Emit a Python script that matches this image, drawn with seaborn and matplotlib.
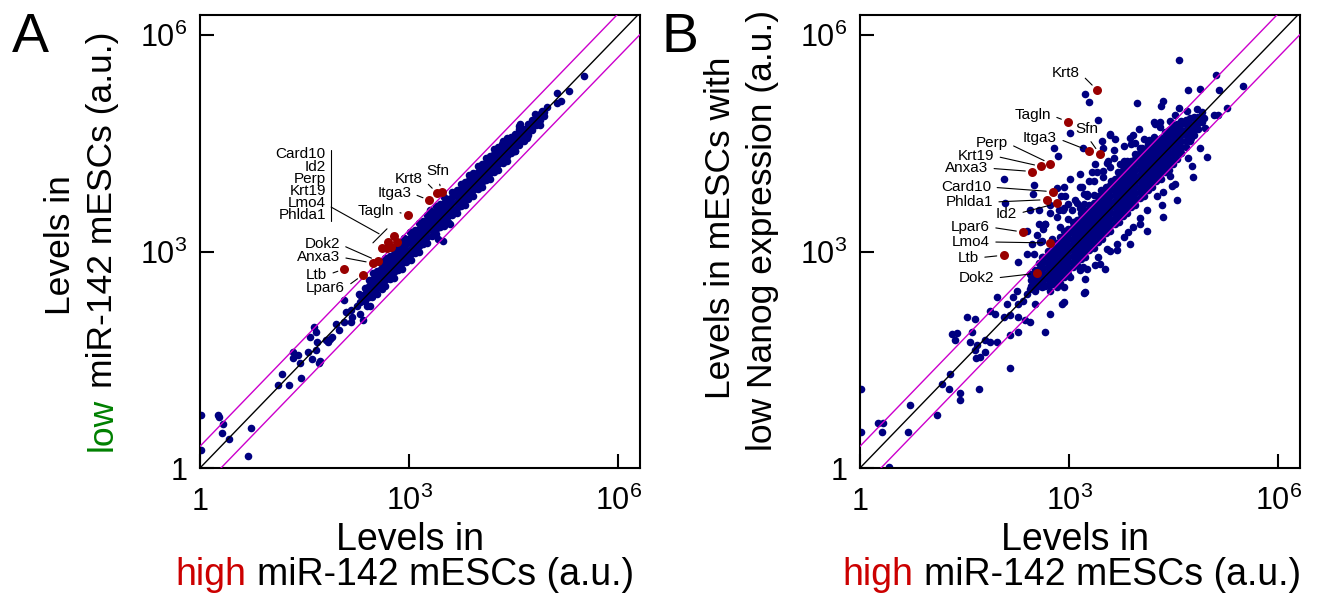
import matplotlib
matplotlib.use("Agg")
import matplotlib.pyplot as plt
import numpy as np
import pandas as pd
import seaborn as sns

# ---- data: log10 levels (a.u.) ----
# panel A: x = high miR-142 mESCs, y = low miR-142 mESCs
a_spread = [
    (0.01, 0.73), (0.26, 0.74), (0.27, 0.71), (0.33, 0.61), (0.32, 0.49), (0.42, 0.40),
    (0.01, 0.25), (0.69, 0.16), (0.73, 0.56), (1.12, 1.15), (1.27, 1.15), (1.17, 1.31),
    (1.45, 1.25), (1.34, 1.61), (1.33, 1.52), (1.40, 1.57), (1.43, 1.45), (1.55, 1.61),
    (1.60, 1.51), (1.67, 1.63), (1.68, 1.75), (1.66, 1.89), (1.64, 1.96), (1.58, 1.82),
    (1.72, 1.49), (1.70, 1.45), (1.81, 1.77), (1.87, 1.79), (1.90, 1.81), (1.84, 1.75),
    (1.95, 1.99), (2.00, 1.91), (2.07, 2.02), (2.09, 2.16), (2.06, 2.33), (2.16, 2.19),
    (2.18, 2.09), (2.17, 2.02), (2.25, 2.25), (2.30, 2.14), (2.34, 2.05), (2.39, 2.25),
    (2.41, 2.39), (2.28, 2.41), (2.37, 2.33), (2.44, 2.25), (2.46, 2.37), (2.54, 2.41),
    (2.61, 2.48), (2.32, 2.32), (2.37, 2.41), (2.92, 3.19), (2.97, 3.15), (3.01, 3.27),
    (3.42, 3.17), (3.49, 3.15), (3.59, 3.38), (3.30, 3.57), (3.84, 3.73), (4.07, 4.21),
    (4.33, 4.49), (4.38, 4.47), (4.57, 4.74), (4.90, 4.95), (4.98, 5.00), (5.12, 5.20),
    (5.17, 5.09), (5.12, 5.06), (5.29, 5.22), (5.50, 5.43), (4.93, 4.88), (4.88, 4.76),
    (4.69, 4.58), (4.59, 4.56), (4.52, 4.40), (4.35, 4.51), (4.59, 4.77), (4.80, 4.91),
]
a_core_x = [2.30, 2.36, 2.42, 2.48, 2.54, 2.60, 2.66, 2.72, 2.78, 2.84, 2.90, 2.96,
            3.02, 3.08, 3.14, 3.20, 3.26, 3.32, 3.38, 3.44, 3.50, 3.56, 3.62, 3.68,
            3.74, 3.80, 3.86, 3.92, 3.98, 4.04, 4.10, 4.16, 4.22, 4.28, 4.34, 4.40,
            4.46, 4.52, 4.58, 4.64, 4.70, 4.76, 4.82, 4.88, 4.94]
a_core_y = [
    [2.30, 2.40], [2.32, 2.41, 2.50], [2.37, 2.45, 2.53, 2.61], [2.46, 2.54, 2.62, 2.70],
    [2.49, 2.57, 2.65, 2.73], [2.52, 2.60, 2.68, 2.76, 2.84],
    [2.52, 2.60, 2.68, 2.76, 2.84, 2.91], [2.62, 2.70, 2.78, 2.86, 2.94],
    [2.64, 2.72, 2.80, 2.88, 2.96, 3.03], [2.74, 2.82, 2.90, 2.98, 3.06],
    [2.76, 2.84, 2.92, 3.00, 3.08, 3.15], [2.86, 2.94, 3.02, 3.10, 3.18],
    [2.88, 2.96, 3.04, 3.12, 3.20, 3.27], [2.98, 3.06, 3.14, 3.22, 3.30],
    [3.00, 3.08, 3.16, 3.24, 3.32, 3.39], [3.10, 3.18, 3.26, 3.34, 3.42],
    [3.12, 3.20, 3.28, 3.36, 3.44, 3.51], [3.22, 3.30, 3.38, 3.46, 3.54],
    [3.24, 3.32, 3.40, 3.48, 3.56, 3.63], [3.34, 3.42, 3.50, 3.58, 3.66],
    [3.36, 3.44, 3.52, 3.60, 3.68, 3.75], [3.41, 3.49, 3.57, 3.65, 3.73],
    [3.51, 3.59, 3.67, 3.75, 3.82], [3.53, 3.61, 3.69, 3.77, 3.85],
    [3.63, 3.71, 3.79, 3.87, 3.94], [3.65, 3.73, 3.81, 3.89, 3.97],
    [3.75, 3.83, 3.91, 3.99, 4.06], [3.77, 3.85, 3.93, 4.01, 4.09],
    [3.87, 3.95, 4.03, 4.11, 4.18], [3.89, 3.97, 4.05, 4.13, 4.21],
    [3.99, 4.07, 4.15, 4.23, 4.30], [4.01, 4.09, 4.17, 4.25, 4.33],
    [4.11, 4.19, 4.27, 4.35, 4.42], [4.13, 4.21, 4.29, 4.37, 4.45],
    [4.23, 4.31, 4.39, 4.47, 4.54], [4.25, 4.33, 4.41, 4.49, 4.57],
    [4.36, 4.44, 4.52, 4.59], [4.40, 4.48, 4.56, 4.63], [4.48, 4.56, 4.64, 4.70],
    [4.54, 4.62, 4.70], [4.62, 4.70, 4.77], [4.68, 4.76, 4.82], [4.76, 4.84],
    [4.83, 4.91], [4.94],
]
a_genes = ["Sfn", "Krt8", "Itga3", "Tagln", "Card10", "Id2", "Perp", "Krt19",
           "Lmo4", "Phlda1", "Dok2", "Anxa3", "Ltb", "Lpar6"]
a_gene_x = [3.47, 3.40, 3.29, 2.98, 2.78, 2.82, 2.70, 2.74, 2.68, 2.61, 2.55, 2.48, 2.07, 2.34]
a_gene_y = [3.82, 3.81, 3.71, 3.51, 3.21, 3.14, 3.13, 3.06, 3.05, 3.05, 2.87, 2.84, 2.76, 2.68]

# panel B: x = high miR-142 mESCs, y = mESCs with low Nanog expression
b_spread = [
    (4.57, 5.65), (3.22, 5.19), (3.28, 5.07), (3.42, 4.82), (3.01, 4.64), (3.97, 5.06),
    (4.35, 5.09), (4.31, 5.02), (4.71, 5.24), (4.87, 5.25), (5.11, 5.45), (5.15, 5.24),
    (5.49, 5.29), (5.27, 4.99), (4.57, 4.99), (4.52, 4.89), (5.07, 4.90), (5.14, 4.90),
    (4.93, 4.85), (4.21, 4.80), (4.30, 4.73), (4.00, 4.70), (3.92, 4.62), (4.07, 4.56),
    (4.22, 4.59), (3.58, 4.62), (3.66, 4.56), (3.47, 4.53), (3.49, 4.44), (3.20, 4.43),
    (2.78, 4.44), (2.84, 4.32), (3.78, 4.47), (3.88, 4.49), (3.95, 4.50), (4.02, 4.44),
    (3.64, 4.41), (3.64, 4.30), (3.54, 4.23), (3.40, 4.10), (3.37, 4.21), (3.16, 4.07),
    (3.28, 3.98), (3.01, 4.00), (2.92, 3.89), (2.82, 3.88), (2.49, 3.93), (2.48, 3.80),
    (2.06, 4.00), (2.88, 3.77), (2.94, 3.77), (2.73, 3.65), (2.73, 3.53), (2.57, 3.57),
    (2.44, 3.57), (2.08, 3.67), (2.85, 3.57), (2.91, 3.57), (2.99, 3.66), (3.11, 3.67),
    (3.21, 3.66), (3.25, 3.77), (3.16, 3.89), (3.21, 3.80), (3.35, 3.98), (3.49, 4.03),
    (3.59, 4.17), (3.73, 4.21), (3.83, 4.26), (2.66, 3.38), (2.56, 3.38), (2.63, 3.31),
    (2.39, 3.29), (2.54, 3.23), (2.61, 3.15), (2.46, 3.11), (2.39, 2.97), (2.49, 2.97),
    (2.61, 2.92), (2.27, 2.85), (2.44, 2.69), (2.46, 2.60), (2.54, 2.58), (2.61, 2.51),
    (2.66, 2.53), (2.44, 2.48), (2.51, 2.46), (2.73, 2.46), (2.82, 2.51), (2.92, 2.51),
    (3.21, 2.42), (2.90, 2.28), (2.73, 2.14), (2.66, 1.88), (2.44, 2.02), (2.37, 2.05),
    (2.27, 2.09), (2.15, 2.12), (2.06, 2.10), (1.94, 2.14), (2.15, 1.84), (2.27, 1.88),
    (1.96, 2.37), (2.11, 2.27), (2.20, 2.37), (2.27, 2.28), (2.34, 2.32), (2.51, 2.28),
    (2.39, 2.41), (2.25, 2.46), (1.87, 2.18), (1.53, 2.09), (1.65, 2.06), (1.32, 1.86),
    (1.39, 1.87), (1.36, 1.77), (1.60, 1.88), (1.58, 1.75), (1.68, 1.70), (1.79, 1.77),
    (1.87, 1.75), (1.96, 1.75), (2.15, 1.38), (1.79, 1.61), (1.72, 1.54), (1.65, 1.63),
    (1.67, 1.52), (1.29, 1.31), (1.17, 1.17), (1.27, 1.09), (1.44, 1.04), (1.44, 0.94),
    (1.70, 1.09), (0.72, 0.87), (1.11, 0.73), (0.26, 0.62), (0.33, 0.63), (0.31, 0.50),
    (0.69, 0.50), (0.01, 1.09), (0.01, 0.50), (0.41, 0.02),
    (3.52, 2.76), (3.42, 2.92), (3.23, 2.62), (3.25, 2.76), (3.37, 2.81), (3.54, 3.04),
    (3.68, 3.11), (3.78, 3.20), (3.92, 3.34), (4.02, 3.38), (4.12, 3.57), (4.33, 3.65),
    (4.26, 3.77), (4.47, 3.91), (4.52, 3.94), (4.76, 4.19), (4.71, 4.30), (4.87, 4.43),
    (4.95, 4.72), (4.74, 4.58), (4.59, 4.40), (4.45, 4.05), (4.35, 3.82), (4.02, 3.47),
    (3.85, 3.27), (3.59, 3.01), (3.01, 2.65), (2.92, 2.65), (3.16, 2.74),
    (3.56, 4.26), (3.87, 4.58), (3.49, 4.12), (3.32, 4.10), (3.18, 3.89), (3.25, 3.80),
    (3.08, 3.71), (2.92, 3.61), (3.04, 3.57), (2.82, 3.48), (2.65, 3.38), (2.87, 3.34),
    (2.75, 3.18), (2.58, 3.13), (3.58, 4.63), (4.23, 4.77), (4.30, 4.79), (4.45, 4.81),
    (4.69, 4.95), (4.83, 4.97), (3.78, 4.26), (3.99, 4.33), (4.11, 4.42), (2.97, 2.74),
    (3.20, 2.78), (3.44, 2.83), (3.68, 3.02), (3.87, 3.11), (4.11, 3.29), (4.35, 3.48),
    (4.54, 3.71), (4.78, 4.03), (4.97, 4.31), (3.23, 2.44), (2.92, 2.30),
    (3.45, 3.85), (3.60, 3.98), (3.70, 4.10), (3.95, 4.35), (4.05, 4.43), (4.15, 4.55),
    (3.35, 3.78), (3.15, 3.60), (2.98, 3.45), (3.80, 4.22),
]
b_core_x = [2.45, 2.51, 2.57, 2.63, 2.69, 2.75, 2.81, 2.87, 2.93, 2.99, 3.05, 3.11,
            3.17, 3.23, 3.29, 3.35, 3.41, 3.47, 3.53, 3.59, 3.65, 3.71, 3.77, 3.83,
            3.89, 3.95, 4.01, 4.07, 4.13, 4.19, 4.25, 4.31, 4.37, 4.43, 4.49, 4.55,
            4.61, 4.67, 4.73, 4.79, 4.85, 4.91]
b_core_y = [
    [2.53, 2.60, 2.67], [2.51, 2.59, 2.67, 2.75], [2.52, 2.60, 2.68, 2.76, 2.84],
    [2.53, 2.61, 2.69, 2.77, 2.85, 2.93], [2.54, 2.62, 2.70, 2.78, 2.86, 2.94, 3.01],
    [2.55, 2.63, 2.71, 2.79, 2.87, 2.95, 3.03, 3.09],
    [2.56, 2.64, 2.72, 2.80, 2.88, 2.96, 3.04, 3.12],
    [2.57, 2.65, 2.73, 2.81, 2.89, 2.97, 3.05, 3.13, 3.20],
    [2.66, 2.74, 2.82, 2.90, 2.98, 3.06, 3.14, 3.22, 3.29],
    [2.69, 2.77, 2.85, 2.93, 3.01, 3.09, 3.17, 3.25, 3.32],
    [2.78, 2.86, 2.94, 3.02, 3.10, 3.18, 3.26, 3.34, 3.41],
    [2.81, 2.89, 2.97, 3.05, 3.13, 3.21, 3.29, 3.37, 3.44],
    [2.90, 2.98, 3.06, 3.14, 3.22, 3.30, 3.38, 3.46, 3.53],
    [2.93, 3.01, 3.09, 3.17, 3.25, 3.33, 3.41, 3.49, 3.56],
    [3.02, 3.10, 3.18, 3.26, 3.34, 3.42, 3.50, 3.58, 3.65],
    [3.05, 3.13, 3.21, 3.29, 3.37, 3.45, 3.53, 3.61, 3.68],
    [3.14, 3.22, 3.30, 3.38, 3.46, 3.54, 3.62, 3.70, 3.77],
    [3.17, 3.25, 3.33, 3.41, 3.49, 3.57, 3.65, 3.73, 3.80],
    [3.26, 3.34, 3.42, 3.50, 3.58, 3.66, 3.74, 3.82, 3.89],
    [3.29, 3.37, 3.45, 3.53, 3.61, 3.69, 3.77, 3.85, 3.92],
    [3.38, 3.46, 3.54, 3.62, 3.70, 3.78, 3.86, 3.94, 4.01],
    [3.41, 3.49, 3.57, 3.65, 3.73, 3.81, 3.89, 3.97, 4.04],
    [3.50, 3.58, 3.66, 3.74, 3.82, 3.90, 3.98, 4.06, 4.13],
    [3.53, 3.61, 3.69, 3.77, 3.85, 3.93, 4.01, 4.09, 4.16],
    [3.62, 3.70, 3.78, 3.86, 3.94, 4.02, 4.10, 4.18, 4.25],
    [3.65, 3.73, 3.81, 3.89, 3.97, 4.05, 4.13, 4.21, 4.28],
    [3.74, 3.82, 3.90, 3.98, 4.06, 4.14, 4.22, 4.30, 4.37],
    [3.77, 3.85, 3.93, 4.01, 4.09, 4.17, 4.25, 4.33, 4.40],
    [3.86, 3.94, 4.02, 4.10, 4.18, 4.26, 4.34, 4.42, 4.49],
    [3.89, 3.97, 4.05, 4.13, 4.21, 4.29, 4.37, 4.45, 4.52],
    [3.98, 4.06, 4.14, 4.22, 4.30, 4.38, 4.46, 4.54],
    [4.01, 4.09, 4.17, 4.25, 4.33, 4.41, 4.49, 4.57],
    [4.10, 4.18, 4.26, 4.34, 4.42, 4.50, 4.58, 4.66],
    [4.13, 4.21, 4.29, 4.37, 4.45, 4.53, 4.61, 4.69],
    [4.21, 4.29, 4.37, 4.45, 4.53, 4.61, 4.69, 4.76],
    [4.29, 4.37, 4.45, 4.53, 4.61, 4.69, 4.77],
    [4.37, 4.45, 4.53, 4.61, 4.69, 4.77, 4.81],
    [4.45, 4.53, 4.61, 4.69, 4.77, 4.83],
    [4.53, 4.61, 4.69, 4.77, 4.85],
    [4.61, 4.69, 4.77, 4.87],
    [4.70, 4.78, 4.87],
    [4.79, 4.87, 4.93],
]
b_genes = ["Krt8", "Tagln", "Sfn", "Itga3", "Perp", "Krt19", "Anxa3", "Card10",
           "Phlda1", "Id2", "Lpar6", "Lmo4", "Ltb", "Dok2"]
b_gene_x = [3.40, 2.98, 3.44, 3.28, 2.73, 2.60, 2.47, 2.77, 2.68, 2.83, 2.34, 2.72, 2.06, 2.54]
b_gene_y = [5.24, 4.80, 4.35, 4.40, 4.22, 4.18, 4.11, 3.83, 3.72, 3.67, 3.27, 3.12, 2.95, 2.70]

tick_values = [1, 1e3, 1e6]
tick_labels = ["1", "$10^3$", "$10^6$"]

# ---- layout / style (pixels of the 1343x604 figure, y from the bottom) ----
W, H = 1343, 604
NAVY = "#000080"
DARK_RED = "#990000"
MAGENTA = "#cc00cc"
GENE_FS = 11

# label spots in axes fraction: (x, y, ha)
a_spots = {
    "Sfn": (0.541, 0.655, "center"), "Krt8": (0.507, 0.638, "right"),
    "Itga3": (0.480, 0.607, "right"), "Tagln": (0.441, 0.567, "right"),
    "Dok2": (0.318, 0.494, "right"), "Anxa3": (0.318, 0.466, "right"),
    "Ltb": (0.289, 0.426, "right"), "Lpar6": (0.330, 0.398, "right"),
}
a_stack = ["Card10", "Id2", "Perp", "Krt19", "Lmo4", "Phlda1"]
a_stack_y = [0.693, 0.665, 0.638, 0.611, 0.585, 0.558]
b_spots = {
    "Krt8": (0.500, 0.872, "right"), "Tagln": (0.434, 0.779, "right"),
    "Sfn": (0.516, 0.748, "center"), "Itga3": (0.448, 0.728, "right"),
    "Perp": (0.336, 0.717, "right"), "Krt19": (0.305, 0.689, "right"),
    "Anxa3": (0.291, 0.662, "right"), "Card10": (0.298, 0.620, "right"),
    "Phlda1": (0.302, 0.587, "right"), "Id2": (0.357, 0.561, "right"),
    "Lpar6": (0.295, 0.532, "right"), "Lmo4": (0.295, 0.499, "right"),
    "Ltb": (0.270, 0.464, "right"), "Dok2": (0.305, 0.419, "right"),
}


def build_frame(spread, core_x, core_y):
    xs = [p[0] for p in spread]
    ys = [p[1] for p in spread]
    for cx, col in zip(core_x, core_y):
        xs.extend([cx] * len(col))
        ys.extend(col)
    return pd.DataFrame({"high": 10.0 ** np.array(xs), "low": 10.0 ** np.array(ys)})


def draw_panel(ax, frame, genes, gx, gy, spots):
    sns.scatterplot(data=frame, x="high", y="low", color=NAVY, s=30,
                    linewidth=0, ax=ax, zorder=2)
    span = np.array([0.1, 1e7])
    ax.plot(span, span, color="black", lw=1.0, zorder=3)
    ax.plot(span, span * 2, color=MAGENTA, lw=1.0, zorder=3)
    ax.plot(span, span / 2, color=MAGENTA, lw=1.0, zorder=3)
    red = pd.DataFrame({"high": 10.0 ** np.array(gx), "low": 10.0 ** np.array(gy)})
    sns.scatterplot(data=red, x="high", y="low", color=DARK_RED, s=42,
                    linewidth=0, ax=ax, zorder=4)

    ax.set_xscale("log")
    ax.set_yscale("log")
    ax.set_xlim(1, 10 ** 6.31)
    ax.set_ylim(1, 10 ** 6.28)
    ax.set_xticks(tick_values, labels=tick_labels)
    ax.set_yticks(tick_values, labels=tick_labels)
    ax.minorticks_off()
    ax.tick_params(direction="in", length=10, width=1.5, labelsize=22, colors="black")
    ax.tick_params(axis="x", pad=30)
    ax.tick_params(axis="y", pad=9)
    plt.setp(ax.get_xticklabels(), va="baseline")
    for spine in ax.spines.values():
        spine.set_linewidth(1.5)
        spine.set_color("black")
    ax.set_xlabel("")
    ax.set_ylabel("")

    for name, x, y in zip(genes, gx, gy):
        if name not in spots:
            continue
        tx, ty, ha = spots[name]
        relpos = (0.5, 0.0) if ha == "center" else (1.0, 0.5)
        ax.annotate(name, xy=(10 ** x, 10 ** y), xytext=(tx, ty),
                    textcoords="axes fraction", ha=ha, va="center", fontsize=GENE_FS,
                    arrowprops=dict(arrowstyle="-", color="black", lw=0.8,
                                    shrinkA=2, shrinkB=5, relpos=relpos))


def text_px_width(fig, renderer, s, size):
    t = fig.text(0, 0, s, fontsize=size)
    w = t.get_window_extent(renderer=renderer).width
    t.remove()
    return w


def two_tone(fig, renderer, lead, rest, color, base, mid, size, vertical):
    full = text_px_width(fig, renderer, lead + " " + rest, size)
    shift = (text_px_width(fig, renderer, lead + " m", size)
             - text_px_width(fig, renderer, "m", size))
    start = mid - full / 2
    kw = dict(fontsize=size, ha="left", va="baseline", rotation_mode="anchor")
    if vertical:
        fig.text(base / W, start / H, lead, color=color, rotation=90, **kw)
        fig.text(base / W, (start + shift) / H, rest, color="black", rotation=90, **kw)
    else:
        fig.text(start / W, base / H, lead, color=color, **kw)
        fig.text((start + shift) / W, base / H, rest, color="black", **kw)


sns.set_style("ticks")
plt.rcParams["font.family"] = ["Liberation Sans", "DejaVu Sans"]
plt.rcParams["text.color"] = "black"
plt.rcParams["axes.labelcolor"] = "black"
plt.rcParams["xtick.color"] = "black"
plt.rcParams["ytick.color"] = "black"
plt.rcParams["axes.edgecolor"] = "black"
plt.rcParams["mathtext.fontset"] = "custom"
plt.rcParams["mathtext.rm"] = "Liberation Sans"
plt.rcParams["mathtext.it"] = "Liberation Sans:italic"
plt.rcParams["mathtext.bf"] = "Liberation Sans:bold"

fig = plt.figure(figsize=(W / 100, H / 100), dpi=100)
ax_a = fig.add_axes([200 / W, 136 / H, 440 / W, 453 / H])
ax_b = fig.add_axes([860 / W, 136 / H, 440 / W, 453 / H])

draw_panel(ax_a, build_frame(a_spread, a_core_x, a_core_y), a_genes, a_gene_x, a_gene_y, a_spots)
draw_panel(ax_b, build_frame(b_spread, b_core_x, b_core_y), b_genes, b_gene_x, b_gene_y, b_spots)

# stacked gene names sharing one bracket in panel A
for name, fy in zip(a_stack, a_stack_y):
    ax_a.text(0.286, fy, name, transform=ax_a.transAxes, ha="right", va="center",
              fontsize=GENE_FS)
bracket = dict(transform=ax_a.transAxes, color="black", lw=0.8, clip_on=False)
ax_a.plot([0.298, 0.298], [0.545, 0.703], **bracket)
ax_a.plot([0.298, 0.407], [0.576, 0.517], **bracket)
ax_a.plot([0.393, 0.425], [0.497, 0.528], **bracket)

renderer = fig.canvas.get_renderer()
XL, YL = 27, 25.5
anchor = dict(ha="center", va="baseline", rotation_mode="anchor")

# panel A axis labels
fig.text(410 / W, 54 / H, "Levels in", fontsize=XL, **anchor)
two_tone(fig, renderer, "high", "miR-142 mESCs (a.u.)", "#cc0000", 19, 405, XL, False)
fig.text(70 / W, 359 / H, "Levels in", fontsize=YL, rotation=90, **anchor)
two_tone(fig, renderer, "low", "miR-142 mESCs (a.u.)", "#008000", 112, 363, YL, True)

# panel B axis labels
fig.text(1075 / W, 54 / H, "Levels in", fontsize=XL, **anchor)
two_tone(fig, renderer, "high", "miR-142 mESCs (a.u.)", "#cc0000", 19, 1072, XL, False)
fig.text(730 / W, 376 / H, "Levels in mESCs with", fontsize=YL, rotation=90, **anchor)
fig.text(772 / W, 374 / H, "low Nanog expression (a.u.)", fontsize=YL, rotation=90, **anchor)

fig.text(12 / W, 552 / H, "A", fontsize=40, ha="left", va="baseline")
fig.text(662 / W, 552 / H, "B", fontsize=40, ha="left", va="baseline")

fig.savefig("out.png", dpi=100)
